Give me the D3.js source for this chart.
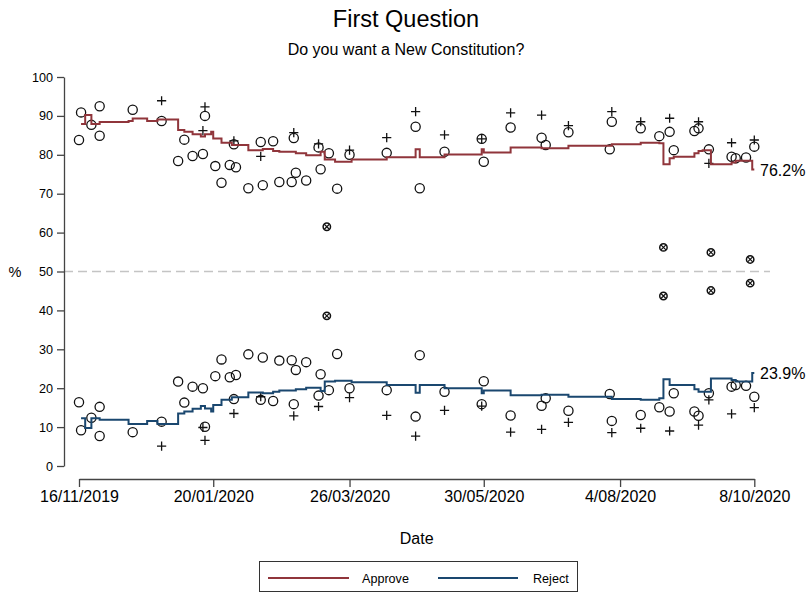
<!DOCTYPE html>
<html><head><meta charset="utf-8">
<script src="https://cdn.jsdelivr.net/npm/d3@7"></script>
<style>
body{margin:0;background:#fff}
svg{display:block}
text{font-family:"Liberation Sans",Arial,Helvetica,sans-serif;fill:#000}
</style>
</head><body>
<svg id="chart" width="812" height="597"></svg>
<script>
// ---------- DATA ----------
const xTickDates  = ["2019-11-16","2020-01-20","2020-03-26","2020-05-30","2020-08-04","2020-10-08"];
const xTickLabels = ["16/11/2019","20/01/2020","26/03/2020","30/05/2020","4/08/2020","8/10/2020"];
const yTicks = [0,10,20,30,40,50,60,70,80,90,100];

// polls drawn as hollow circles
const circleDates = ["2019-11-16","2019-11-17","2019-11-22","2019-11-26","2019-11-26","2019-12-12","2019-12-26",
  "2020-01-03","2020-01-06","2020-01-10","2020-01-15","2020-01-16","2020-01-21","2020-01-24","2020-01-28",
  "2020-01-30","2020-01-31","2020-02-06","2020-02-12","2020-02-13","2020-02-18","2020-02-21","2020-02-27",
  "2020-02-28","2020-02-29","2020-03-05","2020-03-11","2020-03-12","2020-03-16","2020-03-20","2020-03-26",
  "2020-04-13","2020-04-27","2020-04-29","2020-05-11","2020-05-29","2020-05-30","2020-06-12","2020-06-27",
  "2020-06-29","2020-07-10","2020-07-30","2020-07-31","2020-08-14","2020-08-23","2020-08-28","2020-08-30",
  "2020-09-09","2020-09-11","2020-09-16","2020-09-27","2020-09-29","2020-10-04","2020-10-08"];
const circleApprove = [83.8,90.9,87.7,92.5,84.9,91.6,88.7,78.4,83.9,79.7,80.2,90.0,77.1,72.8,77.4,82.7,76.8,71.4,
  83.3,72.2,83.5,73.0,73.0,84.3,75.4,73.4,81.9,76.3,80.4,71.3,80.0,80.5,87.2,71.4,80.8,84.1,78.2,87.0,84.4,82.5,
  85.8,81.4,88.5,86.8,84.8,85.9,81.2,86.1,86.8,81.4,79.5,79.1,79.3,82.1];
const circleReject = [16.4,9.2,12.4,7.7,15.2,8.7,11.4,21.7,16.3,20.4,20.0,10.1,23.1,27.4,22.8,17.2,23.4,28.7,
  17.0,27.9,16.7,27.1,27.2,15.9,24.7,26.7,18.1,23.6,19.5,28.8,20.0,19.5,12.7,28.5,19.1,15.9,21.8,13.0,15.5,17.4,
  14.2,18.5,11.6,13.1,15.1,14.0,18.7,14.0,12.9,18.7,20.4,20.8,20.6,17.8];

// polls drawn as plus signs
const plusDates = ["2019-12-26","2020-01-15","2020-01-16","2020-01-30","2020-02-12","2020-02-28","2020-03-11",
  "2020-03-26","2020-04-13","2020-04-27","2020-05-11","2020-05-29","2020-06-12","2020-06-27","2020-07-10",
  "2020-07-31","2020-08-14","2020-08-28","2020-09-11","2020-09-16","2020-09-27","2020-10-08"];
const plusApprove = [93.9,86.2,92.3,83.6,79.6,85.7,82.8,81.2,84.4,91.1,85.1,84.1,90.8,90.2,87.5,91.1,88.5,89.4,88.5,77.8,83.1,83.8];
const plusReject  = [5.1,9.9,6.6,13.5,17.8,12.9,15.3,17.6,13.0,7.7,14.3,15.4,8.7,9.4,11.2,8.6,9.7,9.0,10.5,17.0,13.4,15.0];

// polls drawn as crossed circles
const crossDates   = ["2020-03-15","2020-08-25","2020-09-17","2020-10-06"];
const crossApprove = [61.5,56.2,54.9,53.1];
const crossReject  = [38.6,43.7,45.1,47.0];

// poll-of-polls trend (step function)
const stepDates = ["2019-11-17","2019-11-19","2019-11-22","2019-11-26","2019-12-10","2019-12-12","2019-12-19",
  "2019-12-24","2020-01-03","2020-01-06","2020-01-10","2020-01-14","2020-01-16","2020-01-19","2020-01-20",
  "2020-01-24","2020-01-29","2020-02-06","2020-02-13","2020-02-18","2020-02-21","2020-02-29","2020-03-05",
  "2020-03-12","2020-03-14","2020-03-19","2020-03-27","2020-04-13","2020-04-27","2020-04-29","2020-05-11",
  "2020-05-29","2020-05-30","2020-06-12","2020-06-27","2020-07-10","2020-07-31","2020-08-14","2020-08-23",
  "2020-08-25","2020-08-28","2020-08-30","2020-09-09","2020-09-11","2020-09-13","2020-09-17","2020-09-27",
  "2020-09-29","2020-10-07","2020-10-08"];
const approveTrend = [87.9,90.2,87.9,88.4,88.7,89.3,88.7,89.1,86.4,85.9,85.3,84.7,85.3,85.9,84.2,83.1,82.5,81.2,
  81.5,81.0,80.8,80.4,79.9,80.8,78.8,78.2,78.8,79.4,81.4,79.4,80.1,81.4,80.6,81.9,81.7,82.3,82.7,83.1,83.0,77.6,
  79.1,79.5,80.4,81.0,81.2,77.6,78.0,78.5,76.2,76.2];
const rejectTrend = [12.3,9.8,12.3,11.9,10.8,10.8,11.6,10.8,13.5,14.0,14.7,15.4,14.8,14.0,15.7,17.0,17.7,18.9,
  18.7,19.1,19.4,19.7,20.1,19.3,21.7,21.9,21.5,20.8,18.8,20.8,20.0,18.7,19.4,18.2,18.3,17.8,17.2,17.0,17.4,22.3,
  20.8,20.8,19.7,19.1,19.1,22.5,22.1,21.7,23.9,23.9];

const seriesNames = ["Approve","Reject"];
const seriesColors = ["#90353B","#1A476F"];
const endLabels = ["76.2%","23.9%"];

// ---------- CHART ----------
const parse = d3.timeParse("%Y-%m-%d");
const svg = d3.select("#chart");
const x = d3.scaleTime().domain([parse("2019-11-16"), parse("2020-10-08")]).range([79, 754.3]);
const y = d3.scaleLinear().domain([0,100]).range([466,77]);

// titles
svg.append("text").attr("x",406).attr("y",27).attr("text-anchor","middle").style("font-size","23.5px").text("First Question");
svg.append("text").attr("x",406).attr("y",55).attr("text-anchor","middle").style("font-size","16px").text("Do you want a New Constitution?");

// 50% reference line
svg.append("line").attr("x1",64).attr("x2",770).attr("y1",y(50)).attr("y2",y(50))
  .attr("stroke","#c4c4c4").attr("stroke-width",1.5).attr("stroke-dasharray","9,5");

// y axis
const yAxis = svg.append("g").attr("transform","translate(64,0)")
  .call(d3.axisLeft(y).tickValues(yTicks).tickSize(7).tickSizeOuter(0).tickPadding(4));
yAxis.selectAll("text").style("font-size","12.6px").style("font-family","Liberation Sans, Arial, sans-serif");
yAxis.selectAll("line,path").attr("stroke","#444").attr("stroke-width",1.3);

// x axis
const xAxis = svg.append("g").attr("transform","translate(0,479)")
  .call(d3.axisBottom(x).tickValues(xTickDates.map(parse)).tickFormat((d,i)=>xTickLabels[i])
    .tickSize(8).tickSizeOuter(0).tickPadding(4));
xAxis.selectAll("text").style("font-size","16px").style("font-family","Liberation Sans, Arial, sans-serif");
xAxis.selectAll("line,path").attr("stroke","#444").attr("stroke-width",1.3);

// axis titles
svg.append("text").attr("x",15).attr("y",y(50)+5).attr("text-anchor","middle").style("font-size","14.5px").text("%");
svg.append("text").attr("x",416.7).attr("y",544).attr("text-anchor","middle").style("font-size","16px").text("Date");

// markers
const ink = "#111";
function circles(dates, vals){
  svg.append("g").selectAll("circle").data(vals).join("circle")
    .attr("cx",(d,i)=>x(parse(dates[i]))).attr("cy",d=>y(d)).attr("r",4.6)
    .attr("fill","none").attr("stroke",ink).attr("stroke-width",1.3);
}
function pluses(dates, vals){
  const s = 4.6;
  svg.append("g").selectAll("path").data(vals).join("path")
    .attr("d",(d,i)=>{const cx=x(parse(dates[i])), cy=y(d);
      return `M${cx-s},${cy}H${cx+s}M${cx},${cy-s}V${cy+s}`;})
    .attr("stroke",ink).attr("stroke-width",1.3).attr("fill","none");
}
function crosses(dates, vals){
  const g = svg.append("g");
  vals.forEach((v,i)=>{
    const cx=x(parse(dates[i])), cy=y(v), r=3.7, a=2.5;
    g.append("circle").attr("cx",cx).attr("cy",cy).attr("r",r).attr("fill","none").attr("stroke",ink).attr("stroke-width",1.5);
    g.append("path").attr("d",`M${cx-a},${cy-a}L${cx+a},${cy+a}M${cx-a},${cy+a}L${cx+a},${cy-a}`)
      .attr("stroke",ink).attr("stroke-width",1.2);
  });
}
circles(circleDates, circleApprove); circles(circleDates, circleReject);
pluses(plusDates, plusApprove); pluses(plusDates, plusReject);
crosses(crossDates, crossApprove); crosses(crossDates, crossReject);

// trend step lines
const line = d3.line().curve(d3.curveStepAfter).x(d=>x(d[0])).y(d=>y(d[1]));
[approveTrend, rejectTrend].forEach((vals,k)=>{
  const pts = stepDates.map((dd,i)=>[parse(dd), vals[i]]);
  svg.append("path").attr("d",line(pts)).attr("fill","none")
    .attr("stroke",seriesColors[k]).attr("stroke-width",2);
  const last = vals[vals.length-1];
  svg.append("text").attr("x",760).attr("y",y(last)+6).style("font-size","16px").text(endLabels[k]);
});

// legend
svg.append("rect").attr("x",259.5).attr("y",561.5).attr("width",318).attr("height",30)
  .attr("fill","#fff").attr("stroke","#333").attr("stroke-width",1);
const legX = [[268,349,362],[438,518,533]];
seriesNames.forEach((n,k)=>{
  svg.append("line").attr("x1",legX[k][0]).attr("x2",legX[k][1]).attr("y1",578).attr("y2",578)
    .attr("stroke",seriesColors[k]).attr("stroke-width",2);
  svg.append("text").attr("x",legX[k][2]).attr("y",582.5).style("font-size","12.6px").text(n);
});
</script>
</body></html>
